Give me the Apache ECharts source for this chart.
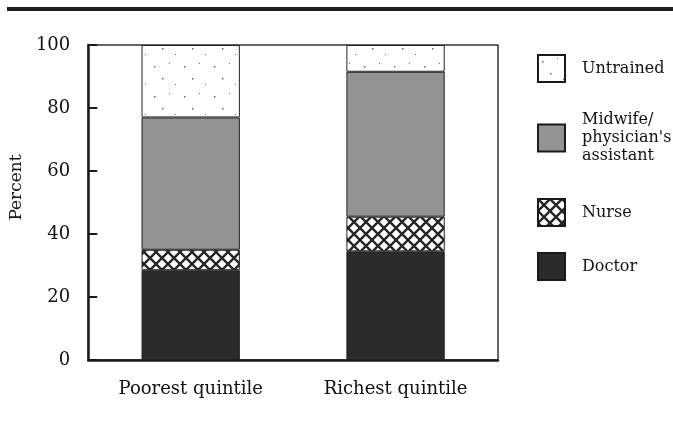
<!DOCTYPE html>
<html>
<head>
<meta charset="utf-8">
<script src="https://cdn.jsdelivr.net/npm/echarts@6/dist/echarts.min.js"></script>
<style>
  html, body { margin: 0; padding: 0; background: #fff; }
  #chart { width: 673px; height: 421px; }
</style>
</head>
<body>
<div id="chart"></div>
<script>
// categories and shares (percent)
var categories = ['Poorest quintile', 'Richest quintile'];
var doctor = [28.5, 34.5];
var nurse = [6.5, 11];
var midwife = [42, 46];
var untrained = [23, 8.5];
var yTicks = [0, 20, 40, 60, 80, 100];

var serif = '"DejaVu Serif", "Liberation Serif", serif';

// cross hatch for nurse
function hatch() {
  var c = document.createElement('canvas');
  c.width = 12; c.height = 12;
  var g = c.getContext('2d');
  g.fillStyle = '#fff';
  g.fillRect(0, 0, 12, 12);
  g.strokeStyle = '#262626';
  g.lineWidth = 2.4;
  g.beginPath();
  g.moveTo(-1, -1); g.lineTo(13, 13);
  g.moveTo(13, -1); g.lineTo(-1, 13);
  g.stroke();
  return c;
}
// sparse dots for untrained
function dots() {
  var c = document.createElement('canvas');
  c.width = 30; c.height = 30;
  var g = c.getContext('2d');
  g.fillStyle = '#fff';
  g.fillRect(0, 0, 30, 30);
  g.fillStyle = '#666';
  g.fillRect(4, 6, 1.5, 1.5);
  g.fillRect(19, 3, 1, 1);
  g.fillRect(12, 18, 1.5, 1.5);
  g.fillRect(25, 24, 1, 1);
  return c;
}

var chart = echarts.init(document.getElementById('chart'));

function legendAt(name, top) {
  return {
    data: [name],
    left: 532,
    top: top,
    orient: 'vertical',
    icon: 'rect',
    itemWidth: 27,
    itemHeight: 27,
    selectedMode: false,
    itemStyle: {borderColor: '#1a1a1a', borderWidth: 2},
    textStyle: {fontFamily: serif, fontSize: 16, color: '#111', lineHeight: 18, padding: [0, 0, 0, 12]}
  };
}

var barStyle = {borderColor: '#222', borderWidth: 1};

option = {
  backgroundColor: '#fff',
  animation: false,
  graphic: [{
    type: 'rect',
    shape: {x: 7, y: 7, width: 666, height: 4},
    style: {fill: '#1e1e1e'}
  }],
  grid: {
    left: 86, right: 175, top: 45, bottom: 61,
    show: true, borderColor: '#333', borderWidth: 1.5
  },
  legend: [
    legendAt('Untrained', 49),
    legendAt('Midwife/\nphysician\'s\nassistant', 106),
    legendAt('Nurse', 193),
    legendAt('Doctor', 247)
  ],
  xAxis: {
    type: 'category',
    data: categories,
    axisLine: {lineStyle: {color: '#1a1a1a', width: 2.5}},
    axisTick: {show: false},
    axisLabel: {fontFamily: serif, fontSize: 18, color: '#111', margin: 20}
  },
  yAxis: {
    type: 'value',
    min: 0, max: 100, interval: 20,
    name: 'Percent',
    nameLocation: 'middle',
    nameGap: 60,
    nameTextStyle: {fontFamily: serif, fontSize: 17, color: '#111', padding: [0, 0, 0, 30]},
    axisLine: {show: true, lineStyle: {color: '#1a1a1a', width: 2.5}},
    axisTick: {show: true, inside: true, length: 9, lineStyle: {color: '#1a1a1a', width: 2}},
    splitLine: {show: false},
    axisLabel: {
      fontFamily: serif, fontSize: 18, color: '#111', margin: 18,
      formatter: function (v) { return yTicks.indexOf(v) >= 0 ? String(v) : ''; }
    }
  },
  series: [
    {name: 'Doctor', type: 'bar', stack: 'a', barWidth: '48%', data: doctor,
     itemStyle: Object.assign({color: '#2b2b2b'}, barStyle)},
    {name: 'Nurse', type: 'bar', stack: 'a', data: nurse,
     itemStyle: Object.assign({color: {image: hatch(), repeat: 'repeat'}}, barStyle)},
    {name: 'Midwife/\nphysician\'s\nassistant', type: 'bar', stack: 'a', data: midwife,
     itemStyle: Object.assign({color: '#939393'}, barStyle)},
    {name: 'Untrained', type: 'bar', stack: 'a', data: untrained,
     itemStyle: Object.assign({color: {image: dots(), repeat: 'repeat'}}, barStyle)}
  ]
};
chart.setOption(option);
</script>
</body>
</html>
